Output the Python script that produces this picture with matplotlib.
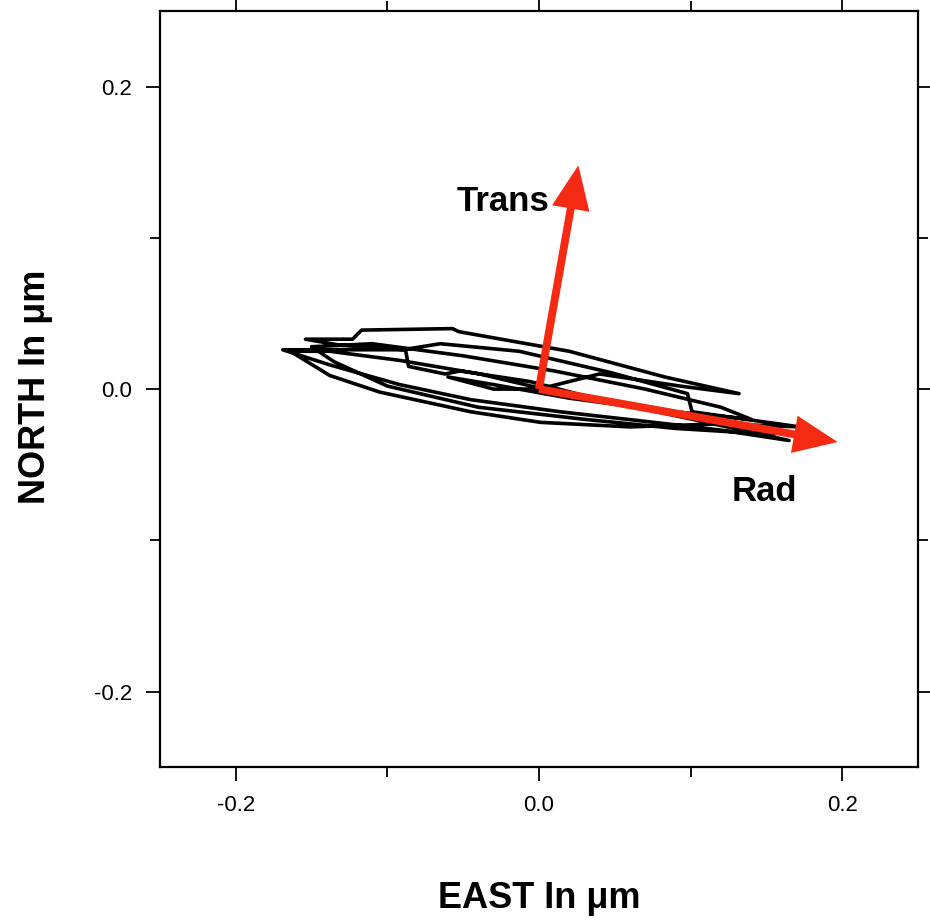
import matplotlib
matplotlib.use("Agg")
import matplotlib.pyplot as plt
from matplotlib.ticker import MultipleLocator, FormatStrFormatter

plt.rcParams['font.family'] = ['Liberation Sans', 'DejaVu Sans']

# particle motion trace (east, north) in micrometres
east = [0.000, 0.040, 0.093, 0.132, 0.083, 0.020, -0.053, -0.057, -0.117, -0.123,
        -0.154, -0.131, -0.088, -0.086, -0.062, -0.052, -0.006, 0.040, 0.106, 0.165,
        0.119, 0.067, 0.014, -0.045, -0.092, -0.138, -0.169, -0.133, -0.090, -0.065,
        -0.013, 0.047, 0.098, 0.101, 0.172, 0.119, 0.060, 0.001, -0.045, -0.105,
        -0.138, -0.164, -0.138, -0.092, -0.039, 0.020, 0.090, 0.155, 0.090, 0.030,
        -0.040, -0.100, -0.135, -0.150, -0.110, -0.050, 0.010, 0.070, 0.120, 0.140,
        0.080, 0.020, -0.030, -0.060, -0.030, 0.000]
north = [0.000, 0.010, 0.002, -0.003, 0.008, 0.025, 0.038, 0.040, 0.039, 0.033,
         0.033, 0.029, 0.026, 0.015, 0.010, 0.012, 0.005, -0.007, -0.021, -0.034,
         -0.027, -0.021, -0.015, -0.007, 0.003, 0.016, 0.026, 0.026, 0.026, 0.030,
         0.025, 0.011, -0.003, -0.015, -0.025, -0.023, -0.025, -0.022, -0.015, -0.002,
         0.009, 0.025, 0.025, 0.019, 0.010, -0.004, -0.017, -0.030, -0.026, -0.020,
         -0.012, 0.002, 0.018, 0.028, 0.030, 0.022, 0.012, 0.000, -0.012, -0.020,
         -0.014, -0.006, 0.003, 0.008, 0.000, 0.000]

# radial / transverse directions
rad_vec = (0.197, -0.035)
trans_vec = (0.026, 0.148)

fig = plt.figure(figsize=(9.3, 9.22), dpi=100)
ax = fig.add_axes([0.172, 0.168, 0.815, 0.820])

ax.plot(east, north, color='black', lw=2.6, solid_joinstyle='round', zorder=2)

red = '#f42a12'
for v in (rad_vec, trans_vec):
    ax.arrow(0, 0, v[0], v[1], width=0.0052, head_width=0.025, head_length=0.029,
             length_includes_head=True, color=red, lw=0, zorder=3)

ax.text(0.007, 0.124, 'Trans', fontsize=25, fontweight='bold', ha='right', va='center')
ax.text(0.149, -0.068, 'Rad', fontsize=25, fontweight='bold', ha='center', va='center')

ax.set_xlim(-0.25, 0.25)
ax.set_ylim(-0.25, 0.25)
for a in (ax.xaxis, ax.yaxis):
    a.set_major_locator(MultipleLocator(0.2))
    a.set_minor_locator(MultipleLocator(0.1))
    a.set_major_formatter(FormatStrFormatter('%.1f'))
ax.tick_params(which='both', direction='out', top=True, right=True, width=1.3, labelsize=16)
ax.tick_params(which='major', length=10, pad=10)
ax.tick_params(which='minor', length=7)
for s in ax.spines.values():
    s.set_linewidth(1.6)

fig.text(0.58, 0.026, 'EAST In μm', fontsize=26, fontweight='bold', ha='center', va='center')
fig.text(0.038, 0.58, 'NORTH In μm', fontsize=26, fontweight='bold', ha='center', va='center',
         rotation=90)

fig.savefig('out.png', dpi=100, facecolor='white')
